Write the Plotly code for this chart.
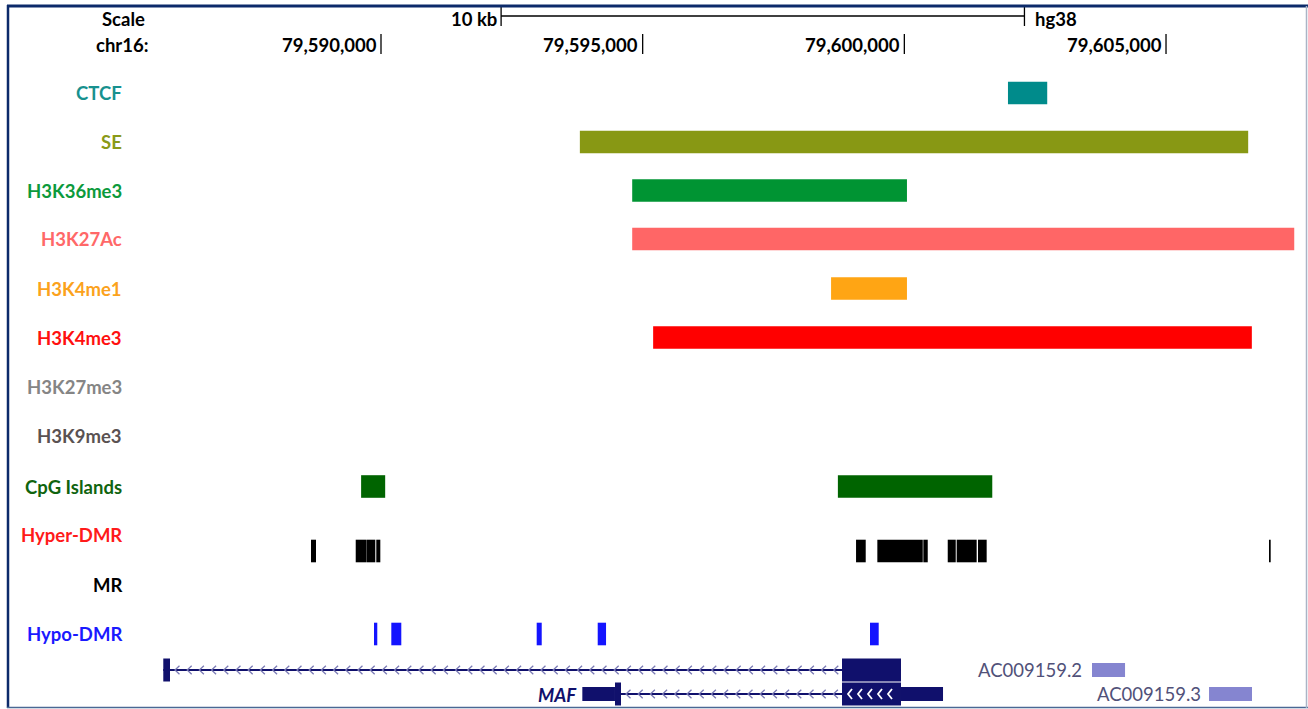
import numpy as np
import plotly.graph_objects as go

# ---- genome browser view: chr16 around MAF (hg38) ----
VIEW_START = 79582720
VIEW_END = 79607713
POS_TICKS = [79590000, 79595000, 79600000, 79605000]
POS_TICK_LABELS = ["79,590,000", "79,595,000", "79,600,000", "79,605,000"]
SCALE_BAR = (79592295, 79602295)  # 10 kb

# ---- feature tracks (start, end) ----
track_names = ["CTCF", "SE", "H3K36me3", "H3K27Ac", "H3K4me1", "H3K4me3",
               "H3K27me3", "H3K9me3", "CpG Islands", "Hyper-DMR", "MR", "Hypo-DMR"]
label_colors = ["#17918f", "#8a9a18", "#0c9a3c", "#ff6868", "#fba21c", "#ff1010",
                "#858585", "#5a5252", "#10640f", "#ff1a1a", "#000000", "#1a1aff"]
bar_colors = ["#008b8b", "#889814", "#009433", "#ff6666", "#ffa514", "#ff0000",
              "#808080", "#555050", "#006400", "#000000", "#000000", "#1414ff"]

ctcf = [(79601980, 79602730)]
se = [(79593800, 79606570)]
h3k36me3 = [(79594800, 79600050)]
h3k27ac = [(79594800, 79607450)]
h3k4me1 = [(79598600, 79600050)]
h3k4me3 = [(79595200, 79606640)]
h3k27me3 = []
h3k9me3 = []
cpg_islands = [(79589620, 79590080), (79598730, 79601680)]
hyper_dmr = [(79588663, 79588758), (79589517, 79589714), (79589719, 79589891),
             (79589910, 79589987), (79599077, 79599262), (79599484, 79600352),
             (79600363, 79600447), (79600829, 79600982), (79601000, 79601382),
             (79601407, 79601573), (79606968, 79607000)]
mr = []
hypo_dmr = [(79589866, 79589929), (79590197, 79590388), (79592975, 79593071),
            (79594141, 79594300), (79599344, 79599510)]

track_features = [ctcf, se, h3k36me3, h3k27ac, h3k4me1, h3k4me3,
                  h3k27me3, h3k9me3, cpg_islands, hyper_dmr, mr, hypo_dmr]

# ---- gene models ----
maf_1_span = (79585840, 79599936)
maf_1_exons = [(79585840, 79585968, "cds"), (79598809, 79599936, "cds")]
maf_2_span = (79594586, 79598809)
maf_2_exons = [(79593847, 79594471, "utr"), (79594471, 79594586, "cds"),
               (79598809, 79599936, "cds"), (79599936, 79600739, "utr")]
ac009159_2 = (79603586, 79604217)
ac009159_3 = (79605822, 79606643)

# ---- layout constants (screen rows, y axis in pixels from top) ----
W, H = 1308, 709
label_y = [93, 142, 190.5, 239, 288.5, 337.5, 387, 436, 486.5, 535, 585, 634]
bar_y = [93, 142, 190.5, 239, 288.5, 337.5, 387, 436, 486.5, 551, 585, 634]
HALF = 11.3
GENE1_Y, GENE2_Y = 670, 694
NAVY = "#10106c"
FONT = "Lato"

fig = go.Figure()
shapes = []
annotations = []


def rect(x0, x1, y0, y1, color):
    shapes.append(dict(type="rect", xref="x", yref="y", x0=x0, x1=x1, y0=y0, y1=y1,
                       fillcolor=color, line=dict(width=0), layer="below"))


def line(x0, x1, y0, y1, color, width, xref="x"):
    shapes.append(dict(type="line", xref=xref, yref="y", x0=x0, x1=x1, y0=y0, y1=y1,
                       line=dict(color=color, width=width), layer="below"))


def text(x, y, s, color="#000000", size=18.5, anchor="right", bold=True, italic=False, xref="x"):
    annotations.append(dict(x=x, y=y, xref=xref, yref="y", text=s, showarrow=False,
                            xanchor=anchor, yanchor="middle",
                            font=dict(family=FONT, size=size, color=color,
                                      weight="bold" if bold else "normal",
                                      style="italic" if italic else "normal")))


bp_per_px = (VIEW_END - VIEW_START) / W

# header: scale bar and coordinates
text(123.5 / W, 19, "Scale", anchor="center", xref="paper")
text(122 / W, 45, "chr16:", anchor="center", xref="paper")
line(SCALE_BAR[0], SCALE_BAR[1], 16, 16, "#000000", 1.3)
line(SCALE_BAR[0], SCALE_BAR[0], 6, 26, "#000000", 1.3)
line(SCALE_BAR[1], SCALE_BAR[1], 6, 26, "#000000", 1.3)
text(SCALE_BAR[0] - 2 * bp_per_px, 19, "10 kb")
text(SCALE_BAR[1] + 9 * bp_per_px, 19, "hg38", anchor="left")
for pos, lab in zip(POS_TICKS, POS_TICK_LABELS):
    line(pos, pos, 34, 54, "#000000", 1.3)
    text(pos - 2.5 * bp_per_px, 45, lab)

# feature tracks
for name, lc, bc, ly, by, feats in zip(track_names, label_colors, bar_colors,
                                        label_y, bar_y, track_features):
    text(124 / W, ly, name, color=lc, xref="paper")
    for s, e in feats:
        rect(s, e, by - HALF, by + HALF, bc)

# gene models: intron lines with strand chevrons
chev_x, chev_y = [], []


def chevrons(s, e, yc, step_px=12.2, w_px=4.5, h_px=4.2):
    step = step_px * bp_per_px
    for x in np.arange(s + 5 * bp_per_px, e - 4 * bp_per_px, step):
        chev_x.extend([x + w_px * bp_per_px, x, x + w_px * bp_per_px, None])
        chev_y.extend([yc - h_px, yc, yc + h_px, None])


line(maf_1_span[0], maf_1_span[1], GENE1_Y, GENE1_Y, NAVY, 2)
chevrons(maf_1_exons[0][1], maf_1_exons[1][0], GENE1_Y)
for s, e, kind in maf_1_exons:
    hh = 11.5 if kind == "cds" else 7
    rect(s, e, GENE1_Y - hh, GENE1_Y + hh, NAVY)

line(maf_2_span[0], maf_2_span[1], GENE2_Y, GENE2_Y, NAVY, 2)
chevrons(maf_2_span[0], maf_2_span[1], GENE2_Y)
for s, e, kind in maf_2_exons:
    hh = 11.5 if kind == "cds" else 7
    rect(s, e, GENE2_Y - hh, GENE2_Y + hh, NAVY)
text(maf_2_exons[0][0] - 3 * bp_per_px, GENE2_Y + 1, "MAF", color=NAVY, italic=True)

fig.add_trace(go.Scatter(x=chev_x, y=chev_y, mode="lines", hoverinfo="skip",
                         line=dict(color="#7a7ab4", width=1.3), showlegend=False))

# white chevrons inside the large exon of the second transcript
wx, wy = [], []
big = maf_2_exons[2]
for x in np.arange(big[0] + 6 * bp_per_px, big[1] - 6 * bp_per_px, 10 * bp_per_px):
    wx.extend([x + 4 * bp_per_px, x, x + 4 * bp_per_px, None])
    wy.extend([GENE2_Y - 5, GENE2_Y, GENE2_Y + 5, None])
fig.add_trace(go.Scatter(x=wx, y=wy, mode="lines", hoverinfo="skip",
                         line=dict(color="#ffffff", width=1.8), showlegend=False))

# neighbouring lncRNA genes
rect(ac009159_2[0], ac009159_2[1], GENE1_Y - 7, GENE1_Y + 7, "#8585d0")
text(ac009159_2[0] - 8 * bp_per_px, GENE1_Y, "AC009159.2", color="#515179", bold=False)
rect(ac009159_3[0], ac009159_3[1], GENE2_Y - 7, GENE2_Y + 7, "#8585d0")
text(ac009159_3[0] - 6 * bp_per_px, GENE2_Y, "AC009159.3", color="#515179", bold=False)

# frame around the view
shapes.append(dict(type="line", xref="paper", yref="y", x0=7 / W, x1=1, y0=6, y1=6,
                   line=dict(color="#0c2a6a", width=3)))
shapes.append(dict(type="line", xref="paper", yref="y", x0=8 / W, x1=8 / W, y0=5, y1=708,
                   line=dict(color="#0c2a6a", width=2.5)))
shapes.append(dict(type="line", xref="paper", yref="y", x0=7 / W, x1=1, y0=707.5, y1=707.5,
                   line=dict(color="#4a6894", width=1.5)))
shapes.append(dict(type="line", xref="paper", yref="y", x0=1306.5 / W, x1=1306.5 / W,
                   y0=6, y1=708, line=dict(color="#aab4c6", width=1.5)))

fig.update_layout(
    width=W, height=H,
    margin=dict(l=0, r=0, t=0, b=0),
    paper_bgcolor="#ffffff", plot_bgcolor="#ffffff",
    xaxis=dict(range=[VIEW_START, VIEW_END], visible=False, fixedrange=True),
    yaxis=dict(range=[H, 0], visible=False, fixedrange=True),
    shapes=shapes, annotations=annotations, showlegend=False,
)

fig.write_html("out.html", config={"displayModeBar": False})
